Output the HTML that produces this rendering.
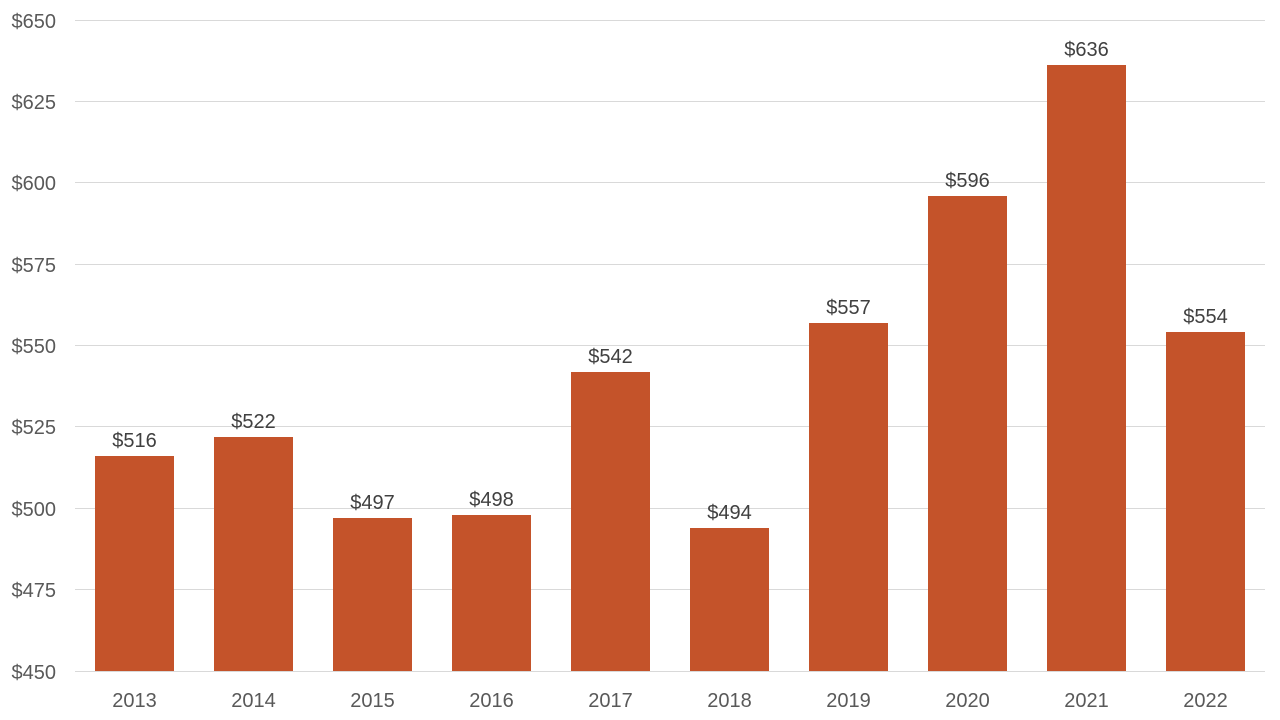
<!DOCTYPE html>
<html><head><meta charset="utf-8"><style>body{margin:0;background:#fff}svg{display:block}</style></head>
<body>
<svg width="1280" height="720" xmlns="http://www.w3.org/2000/svg" font-family="Liberation Sans, sans-serif" font-size="20">
<g stroke="#d9d9d9" stroke-width="1">
<line x1="75" x2="1265" y1="20.5" y2="20.5"/>
<line x1="75" x2="1265" y1="101.5" y2="101.5"/>
<line x1="75" x2="1265" y1="182.5" y2="182.5"/>
<line x1="75" x2="1265" y1="264.5" y2="264.5"/>
<line x1="75" x2="1265" y1="345.5" y2="345.5"/>
<line x1="75" x2="1265" y1="426.5" y2="426.5"/>
<line x1="75" x2="1265" y1="508.5" y2="508.5"/>
<line x1="75" x2="1265" y1="589.5" y2="589.5"/>
<line x1="75" x2="1265" y1="671.5" y2="671.5"/>
</g>
<g fill="#595959" text-anchor="end">
<text x="56" y="28">$650</text>
<text x="56" y="109">$625</text>
<text x="56" y="190">$600</text>
<text x="56" y="272">$575</text>
<text x="56" y="353">$550</text>
<text x="56" y="434">$525</text>
<text x="56" y="516">$500</text>
<text x="56" y="597">$475</text>
<text x="56" y="679">$450</text>
</g>
<g fill="#c4532a">
<rect x="95" y="456" width="79" height="215"/>
<rect x="214" y="437" width="79" height="234"/>
<rect x="333" y="518" width="79" height="153"/>
<rect x="452" y="515" width="79" height="156"/>
<rect x="571" y="372" width="79" height="299"/>
<rect x="690" y="528" width="79" height="143"/>
<rect x="809" y="323" width="79" height="348"/>
<rect x="928" y="196" width="79" height="475"/>
<rect x="1047" y="65" width="79" height="606"/>
<rect x="1166" y="332" width="79" height="339"/>
</g>
<g fill="#404040" text-anchor="middle">
<text x="134.5" y="447">$516</text>
<text x="253.5" y="428">$522</text>
<text x="372.5" y="509">$497</text>
<text x="491.5" y="506">$498</text>
<text x="610.5" y="363">$542</text>
<text x="729.5" y="519">$494</text>
<text x="848.5" y="314">$557</text>
<text x="967.5" y="187">$596</text>
<text x="1086.5" y="56">$636</text>
<text x="1205.5" y="323">$554</text>
</g>
<g fill="#595959" text-anchor="middle">
<text x="134.5" y="707">2013</text>
<text x="253.5" y="707">2014</text>
<text x="372.5" y="707">2015</text>
<text x="491.5" y="707">2016</text>
<text x="610.5" y="707">2017</text>
<text x="729.5" y="707">2018</text>
<text x="848.5" y="707">2019</text>
<text x="967.5" y="707">2020</text>
<text x="1086.5" y="707">2021</text>
<text x="1205.5" y="707">2022</text>
</g>
</svg>
</body></html>
